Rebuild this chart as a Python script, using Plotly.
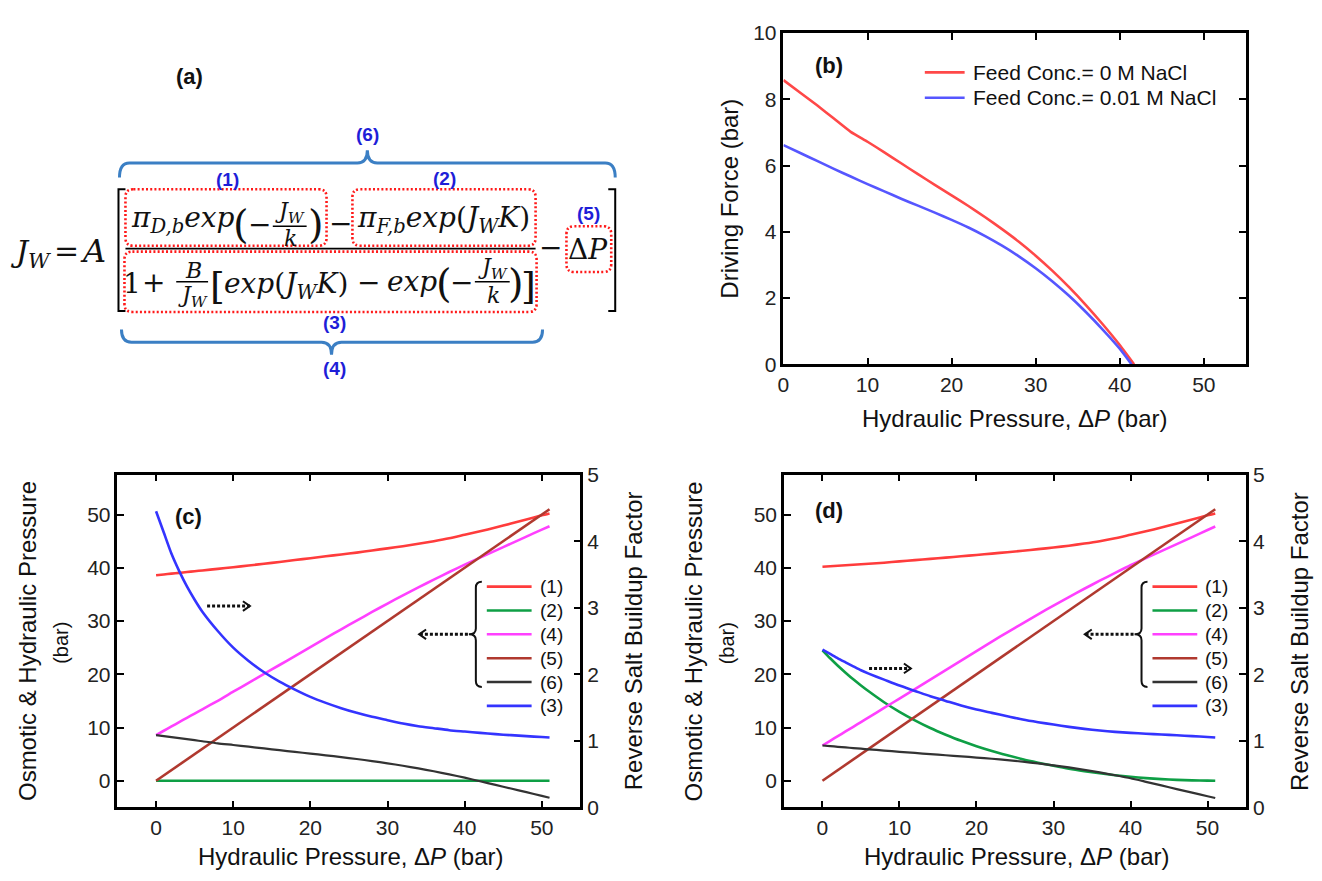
import plotly.graph_objects as go

W, H = 1322, 881
def px(x): return x / W
def py(y): return 1 - y / H

# ------------------------------------------------------------------ data
# panel (b): driving force vs hydraulic pressure
b_dp_0M = [0, 2, 4, 6, 8, 10, 12, 14, 16, 18, 20, 22, 24, 26, 28, 30, 32, 34, 36, 38, 40, 41.7]
b_force_0M = [8.58, 8.2, 7.82, 7.42, 7.02, 6.72, 6.4, 6.07, 5.74, 5.42, 5.1, 4.78, 4.44, 4.08,
              3.7, 3.28, 2.82, 2.32, 1.78, 1.2, 0.58, 0.0]
b_dp_001M = [0, 2, 4, 6, 8, 10, 12, 14, 16, 18, 20, 22, 24, 26, 28, 30, 32, 34, 36, 38, 40, 41.4]
b_force_001M = [6.62, 6.38, 6.14, 5.9, 5.67, 5.44, 5.22, 5.0, 4.79, 4.58, 4.36, 4.13, 3.87, 3.58,
                3.26, 2.9, 2.5, 2.06, 1.57, 1.04, 0.47, 0.0]
b_names = ["Feed Conc.= 0 M NaCl", "Feed Conc.= 0.01 M NaCl"]

# panels (c) and (d): terms of the flux equation
dp = [0, 1, 2, 3, 4, 5, 6, 8, 10, 12, 14, 16, 18, 20, 22, 24, 26, 28, 30, 32, 34, 36, 38, 40,
      42, 44, 46, 48, 50, 51]
dp_ends = [0, 51]
term5 = [0, 51]

c_term1 = [38.6, 38.75, 38.9, 39.05, 39.2, 39.35, 39.5, 39.8, 40.1, 40.42, 40.75, 41.1, 41.45, 41.8,
           42.15, 42.5, 42.85, 43.25, 43.65, 44.05, 44.5, 45.0, 45.55, 46.2, 46.85, 47.55, 48.3,
           49.05, 49.85, 50.2]
c_term2 = [0, 0]
c_term4 = [8.58, 9.39, 10.2, 11.01, 11.82, 12.62, 13.42, 15.02, 16.72, 18.4, 20.07, 21.74, 23.42,
           25.1, 26.78, 28.44, 30.08, 31.7, 33.28, 34.82, 36.32, 37.78, 39.2, 40.58, 41.9, 43.22,
           44.54, 45.86, 47.16, 47.8]
c_term6 = [8.58, 8.39, 8.2, 8.01, 7.82, 7.62, 7.42, 7.02, 6.72, 6.4, 6.07, 5.74, 5.42, 5.1, 4.78,
           4.44, 4.08, 3.7, 3.28, 2.82, 2.32, 1.78, 1.2, 0.58, -0.1, -0.78, -1.46, -2.14, -2.84,
           -3.2]
c_term3 = [4.45, 4.13, 3.81, 3.55, 3.32, 3.12, 2.94, 2.65, 2.4, 2.2, 2.03, 1.89, 1.77, 1.66, 1.57,
           1.49, 1.42, 1.36, 1.31, 1.26, 1.22, 1.19, 1.16, 1.14, 1.12, 1.1, 1.085, 1.07, 1.057,
           1.05]

d_term1 = [40.2, 40.29, 40.38, 40.47, 40.56, 40.65, 40.75, 40.95, 41.2, 41.43, 41.67, 41.91, 42.15,
           42.4, 42.66, 42.93, 43.2, 43.5, 43.8, 44.15, 44.55, 45.0, 45.55, 46.2, 46.85, 47.55,
           48.3, 49.05, 49.85, 50.2]
d_term2 = [24.5, 23.0, 21.6, 20.3, 19.05, 17.9, 16.8, 14.75, 12.95, 11.35, 9.9, 8.65, 7.5, 6.5,
           5.6, 4.8, 4.05, 3.4, 2.8, 2.25, 1.8, 1.4, 1.05, 0.75, 0.5, 0.3, 0.17, 0.08, 0.02, 0.0]
d_term4 = [6.62, 7.5, 8.38, 9.26, 10.14, 11.02, 11.9, 13.67, 15.44, 17.22, 19.0, 20.79, 22.58,
           24.36, 26.13, 27.87, 29.58, 31.26, 32.9, 34.5, 36.06, 37.57, 39.04, 40.47, 41.8,
           43.12, 44.44, 45.76, 47.1, 47.76]
d_term6 = [6.62, 6.5, 6.38, 6.26, 6.14, 6.02, 5.9, 5.67, 5.44, 5.22, 5.0, 4.79, 4.58, 4.36, 4.13,
           3.87, 3.58, 3.26, 2.9, 2.5, 2.06, 1.57, 1.04, 0.47, -0.2, -0.88, -1.56, -2.24, -2.9,
           -3.24]
d_term3 = [2.37, 2.305, 2.24, 2.18, 2.12, 2.06, 2.01, 1.92, 1.83, 1.75, 1.67, 1.6, 1.53, 1.47, 1.42,
           1.37, 1.32, 1.28, 1.245, 1.21, 1.18, 1.155, 1.135, 1.12, 1.107, 1.095, 1.083, 1.07,
           1.058, 1.051]

legend_labels = ["(1)", "(2)", "(4)", "(5)", "(6)", "(3)"]
x_ticks = [0, 10, 20, 30, 40, 50]
left_ticks = [0, 10, 20, 30, 40, 50]
right_ticks = [0, 1, 2, 3, 4, 5]
b_y_ticks = [0, 2, 4, 6, 8, 10]

# ------------------------------------------------------------------ style
RED, GREEN, MAGENTA, BROWN, BLACK, BLUE = "#FF3C3C", "#0E9F45", "#FF40FF", "#B0392F", "#333333", "#3434FF"
B_RED, B_BLUE = "#FF4848", "#5656FF"
LEG_COLORS = [RED, GREEN, MAGENTA, BROWN, BLACK, BLUE]
SANS = "Liberation Sans"
SERIF = "DejaVu Serif"
LW = 2.6

B_X = [781 / W, 1245.5 / W]
B_Y = [py(361.7), py(21.7)]
C_X = [112 / W, 577 / W]
D_X = [781.5 / W, 1245.7 / W]
CD_Y = [py(816.7), py(475)]

fig = go.Figure()

# panel (b)
fig.add_trace(go.Scatter(x=b_dp_0M, y=b_force_0M, mode="lines", name=b_names[0],
                         line=dict(color=B_RED, width=LW, shape="spline", smoothing=0.5),
                         xaxis="x", yaxis="y"))
fig.add_trace(go.Scatter(x=b_dp_001M, y=b_force_001M, mode="lines", name=b_names[1],
                         line=dict(color=B_BLUE, width=LW, shape="spline", smoothing=0.5),
                         xaxis="x", yaxis="y"))

def add_terms(xa, yl, yr, t1, t2x, t2, t4, t6, t3):
    sp = dict(shape="spline", smoothing=0.6)
    fig.add_trace(go.Scatter(x=t2x, y=t2, mode="lines", line=dict(color=GREEN, width=LW, **sp),
                             xaxis=xa, yaxis=yl, name="(2)"))
    fig.add_trace(go.Scatter(x=dp, y=t1, mode="lines", line=dict(color=RED, width=LW, **sp),
                             xaxis=xa, yaxis=yl, name="(1)"))
    fig.add_trace(go.Scatter(x=dp, y=t4, mode="lines", line=dict(color=MAGENTA, width=LW, **sp),
                             xaxis=xa, yaxis=yl, name="(4)"))
    fig.add_trace(go.Scatter(x=dp_ends, y=term5, mode="lines", line=dict(color=BROWN, width=LW),
                             xaxis=xa, yaxis=yl, name="(5)"))
    fig.add_trace(go.Scatter(x=dp, y=t6, mode="lines", line=dict(color=BLACK, width=LW - 0.4, **sp),
                             xaxis=xa, yaxis=yl, name="(6)"))
    fig.add_trace(go.Scatter(x=dp, y=t3, mode="lines", line=dict(color=BLUE, width=LW, **sp),
                             xaxis=xa, yaxis=yr, name="(3)"))

add_terms("x2", "y2", "y3", c_term1, dp_ends, c_term2, c_term4, c_term6, c_term3)
add_terms("x3", "y4", "y5", d_term1, dp, d_term2, d_term4, d_term6, d_term3)

ax = dict(showline=True, linecolor="black", linewidth=2.5, ticks="inside", ticklen=7,
          tickwidth=2, tickcolor="black", showgrid=False, zeroline=False,
          tickfont=dict(family=SANS, size=21, color="#222"))

fig.update_layout(
    xaxis=dict(ax, domain=B_X, anchor="y", range=[0, 55], tickvals=x_ticks, mirror="ticks"),
    yaxis=dict(ax, domain=B_Y, anchor="x", range=[0, 10], tickvals=b_y_ticks, mirror="ticks"),
    xaxis2=dict(ax, domain=C_X, anchor="y2", range=[-5, 55], tickvals=x_ticks, mirror="ticks"),
    yaxis2=dict(ax, domain=CD_Y, anchor="x2", range=[-5, 57.5], tickvals=left_ticks),
    yaxis3=dict(ax, overlaying="y2", side="right", anchor="x2", range=[0, 5], tickvals=right_ticks),
    xaxis3=dict(ax, domain=D_X, anchor="y4", range=[-5, 55], tickvals=x_ticks, mirror="ticks"),
    yaxis4=dict(ax, domain=CD_Y, anchor="x3", range=[-5, 57.5], tickvals=left_ticks),
    yaxis5=dict(ax, overlaying="y4", side="right", anchor="x3", range=[0, 5], tickvals=right_ticks),
)

anns = []
shapes = []

def text(x, y, s, size, color="#111", family=SANS, xanchor="center", yanchor="middle", angle=0):
    anns.append(dict(x=px(x), y=py(y), xref="paper", yref="paper", text=s, showarrow=False,
                     font=dict(size=size, color=color, family=family), xanchor=xanchor,
                     yanchor=yanchor, textangle=angle))

def line(x0, y0, x1, y1, color="black", width=2, dash="solid"):
    shapes.append(dict(type="line", xref="paper", yref="paper", x0=px(x0), y0=py(y0),
                       x1=px(x1), y1=py(y1), line=dict(color=color, width=width, dash=dash)))

def P(x, y):
    return f"{px(x):.6f},{py(y):.6f}"

def path(d, color="black", width=2, dash="solid"):
    shapes.append(dict(type="path", xref="paper", yref="paper", path=d,
                       line=dict(color=color, width=width, dash=dash)))

def rrect(x0, y0, x1, y1, r=8):
    d = (f"M {P(x0 + r, y0)} L {P(x1 - r, y0)} Q {P(x1, y0)} {P(x1, y0 + r)} "
         f"L {P(x1, y1 - r)} Q {P(x1, y1)} {P(x1 - r, y1)} L {P(x0 + r, y1)} "
         f"Q {P(x0, y1)} {P(x0, y1 - r)} L {P(x0, y0 + r)} Q {P(x0, y0)} {P(x0 + r, y0)} Z")
    path(d, color="#FF1A1A", width=2.6, dash="2px,2.2px")

def hbrace(x0, x1, xm, y_arm, y_sp, y_tip, r=10, color="#3B7FC4"):
    d = (f"M {P(x0, y_arm)} Q {P(x0, y_sp)} {P(x0 + r, y_sp)} L {P(xm - r, y_sp)} "
         f"Q {P(xm, y_sp)} {P(xm, y_tip)} Q {P(xm, y_sp)} {P(xm + r, y_sp)} "
         f"L {P(x1 - r, y_sp)} Q {P(x1, y_sp)} {P(x1, y_arm)}")
    path(d, color=color, width=3)

def vbrace(y0, y1, ym, x_arm, x_sp, x_tip, r=6):
    d = (f"M {P(x_arm, y0)} Q {P(x_sp, y0)} {P(x_sp, y0 + r)} L {P(x_sp, ym - r)} "
         f"Q {P(x_sp, ym)} {P(x_tip, ym)} Q {P(x_sp, ym)} {P(x_sp, ym + r)} "
         f"L {P(x_sp, y1 - r)} Q {P(x_sp, y1)} {P(x_arm, y1)}")
    path(d, color="#111", width=2)

def dotted_arrow(x0, x1, y):
    line(x0, y, x1, y, color="#111", width=3, dash="3px,2px")
    s = 1 if x1 > x0 else -1
    path(f"M {P(x1 - s * 7, y - 5)} L {P(x1, y)} L {P(x1 - s * 7, y + 5)}", color="#111", width=2)

# ------------------------------------------------------------------ panel (a): equation
text(184, 66, "<b>(a)</b>", 22)
M = 28
JW = "<i>J</i><sub><i>W</i></sub>"
text(25, 248, JW, 30, family=SERIF)
text(61, 245, "=", 30, family=SERIF)
text(87, 245, "<i>A</i>", 32, family=SERIF)
# outer brackets
path(f"M {P(120, 182)} L {P(113, 182)} L {P(113, 307)} L {P(120, 307)}", width=2)
path(f"M {P(605, 182)} L {P(612, 182)} L {P(612, 307)} L {P(605, 307)}", width=2)
# numerator
text(124, 213, "<i>π</i><sub><i>D,b</i></sub><i>exp</i>", M, family=SERIF, xanchor="left")
text(236, 218, "(", 40, family=SERIF)
text(255, 218, "−", M, family=SERIF)
text(285, 206, JW, 22, family=SERIF)
line(268, 220, 302, 220, width=1.5)
text(286, 233, "<i>k</i>", 22, family=SERIF)
text(311, 218, ")", 40, family=SERIF)
text(336, 217, "−", M, family=SERIF)
text(351, 213, "<i>π</i><sub><i>F,b</i></sub><i>exp</i>(<i>J</i><sub><i>W</i></sub><i>K</i>)",
     M, family=SERIF, xanchor="left")
# main fraction bar
line(120, 243, 532, 243, width=1.6)
# denominator
text(127, 279, "1", M, family=SERIF)
text(148, 278, "+", M, family=SERIF)
text(188, 265, "<i>B</i>", 22, family=SERIF)
line(171, 277, 203, 277, width=1.5)
text(188, 292, JW, 22, family=SERIF)
text(212, 281, "[", 38, family=SERIF)
text(217, 281, "<i>exp</i>(<i>J</i><sub><i>W</i></sub><i>K</i>)", M, family=SERIF, xanchor="left")
text(364, 278, "−", M, family=SERIF)
text(381, 277, "<i>exp</i>", M, family=SERIF, xanchor="left")
text(440, 278, "(", 40, family=SERIF)
text(458, 278, "−", M, family=SERIF)
text(489, 263, JW, 22, family=SERIF)
line(471, 277, 506, 277, width=1.5)
text(490, 291, "<i>k</i>", 22, family=SERIF)
text(512, 278, ")", 40, family=SERIF)
text(525, 281, "]", 38, family=SERIF)
# -ΔP
text(547, 242, "−", M, family=SERIF)
text(585, 244, "Δ<i>P</i>", 28, family=SERIF)
# dotted boxes
rrect(120, 182, 322, 240)
rrect(348, 182, 532, 240)
rrect(119, 246, 533, 308)
rrect(563, 220, 608, 267)
# braces and labels
hbrace(114, 612, 363, 170, 155, 142)
hbrace(116, 539, 327, 326, 339, 352)
LBL = "#1E1ED8"
for (lx, ly, lt) in [(363, 126, "(6)"), (223, 172, "(1)"), (440, 171, "(2)"), (585, 207, "(5)"),
                     (330, 319, "(3)"), (330, 366, "(4)")]:
    text(lx, ly, f"<b>{lt}</b>", 19, color=LBL)

# ------------------------------------------------------------------ panel (b) decorations
text(827, 55, "<b>(b)</b>", 22)
for i, (c, nm) in enumerate(zip([B_RED, B_BLUE], b_names)):
    yy = 62 + 26 * i
    line(923, yy, 963, yy, color=c, width=LW)
    text(969, yy, nm, 21, xanchor="left")
text(727, 192, "Driving Force (bar)", 24, angle=-90)
text(1013, 417, "Hydraulic Pressure, Δ<i>P</i> (bar)", 24)

# ------------------------------------------------------------------ panels (c), (d) decorations
def cd_decor(frame_l, frame_r, label, label_xy, arrow_r):
    text(label_xy[0], label_xy[1], f"<b>{label}</b>", 22)
    rows = [590, 614.5, 639, 663.5, 688, 712.5]
    lx0, lx1 = frame_r - 94, frame_r - 49
    for lab, col, yy in zip(legend_labels, LEG_COLORS, rows):
        line(lx0, yy, lx1, yy, color=col, width=LW)
        text(lx1 + 6, yy, lab, 19, xanchor="left")
    vbrace(585, 693, 639, lx0 - 5, lx0 - 11, lx0 - 18)
    dotted_arrow(lx0 - 19, lx0 - 68, 639)
    dotted_arrow(arrow_r[0], arrow_r[1], arrow_r[2])
    text(frame_l - 91, 646, "Osmotic &amp; Hydraulic Pressure", 24, angle=-90)
    text(frame_l - 57, 648, "(bar)", 20, angle=-90)
    text(frame_r + 53, 646, "Reverse Salt Buildup Factor", 24, angle=-90)
    text((frame_l + frame_r) / 2 + 2, 867, "Hydraulic Pressure, Δ<i>P</i> (bar)", 24)

cd_decor(112, 577, "(c)", (183, 518), (202, 245, 610))
cd_decor(781.5, 1245.7, "(d)", (827, 512), (867, 909, 674))

fig.update_layout(width=W, height=H, margin=dict(l=0, r=0, t=0, b=0),
                  paper_bgcolor="white", plot_bgcolor="white", showlegend=False,
                  annotations=anns, shapes=shapes)
fig.write_html("out.html")
